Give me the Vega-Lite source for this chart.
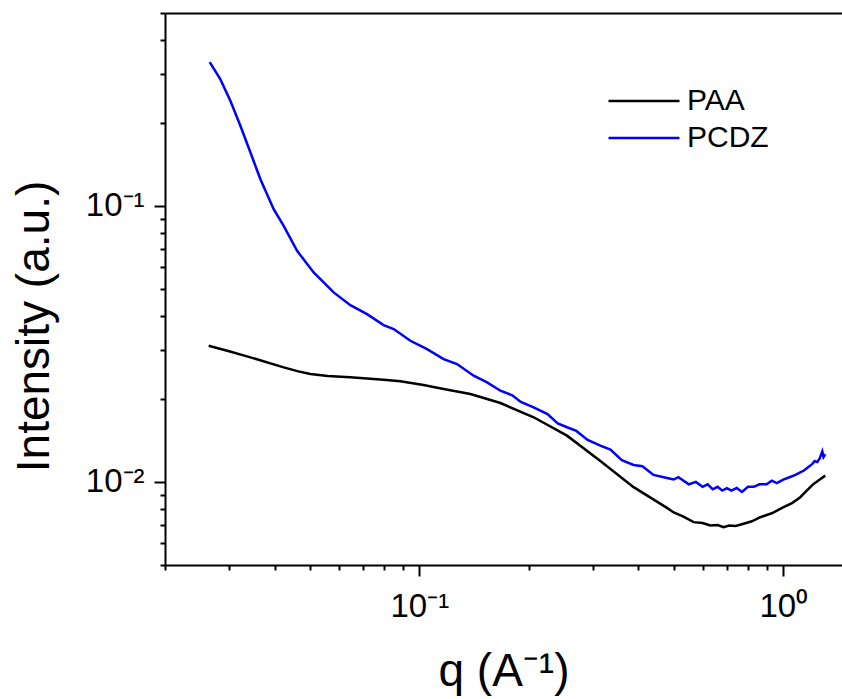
{
  "$schema": "https://vega.github.io/schema/vega-lite/v6.json",
  "width": 677,
  "height": 552,
  "autosize": {"type": "none"},
  "padding": {"left": 165, "top": 13, "right": 0, "bottom": 134},
  "background": "white",
  "config": {"font": "Liberation Sans", "view": {"stroke": null}},
  "data": {"values": [
    {"sample": "PAA", "q": 0.02637, "I": 0.03114},
    {"sample": "PAA", "q": 0.03, "I": 0.02975},
    {"sample": "PAA", "q": 0.03434, "I": 0.02827},
    {"sample": "PAA", "q": 0.04238, "I": 0.02601},
    {"sample": "PAA", "q": 0.0465, "I": 0.02515},
    {"sample": "PAA", "q": 0.05018, "I": 0.0246},
    {"sample": "PAA", "q": 0.056, "I": 0.0242},
    {"sample": "PAA", "q": 0.06462, "I": 0.02393},
    {"sample": "PAA", "q": 0.07976, "I": 0.02346},
    {"sample": "PAA", "q": 0.08867, "I": 0.02315},
    {"sample": "PAA", "q": 0.1027, "I": 0.02245},
    {"sample": "PAA", "q": 0.1166, "I": 0.02171},
    {"sample": "PAA", "q": 0.1381, "I": 0.02082},
    {"sample": "PAA", "q": 0.167, "I": 0.01931},
    {"sample": "PAA", "q": 0.2061, "I": 0.01715},
    {"sample": "PAA", "q": 0.2545, "I": 0.01471},
    {"sample": "PAA", "q": 0.3143, "I": 0.01191},
    {"sample": "PAA", "q": 0.3879, "I": 0.00957},
    {"sample": "PAA", "q": 0.4791, "I": 0.00805},
    {"sample": "PAA", "q": 0.5, "I": 0.00775},
    {"sample": "PAA", "q": 0.53, "I": 0.0075},
    {"sample": "PAA", "q": 0.567, "I": 0.00715},
    {"sample": "PAA", "q": 0.6, "I": 0.0071},
    {"sample": "PAA", "q": 0.6302, "I": 0.00695},
    {"sample": "PAA", "q": 0.66, "I": 0.00698},
    {"sample": "PAA", "q": 0.6855, "I": 0.00685},
    {"sample": "PAA", "q": 0.71, "I": 0.00695},
    {"sample": "PAA", "q": 0.74, "I": 0.00692},
    {"sample": "PAA", "q": 0.7778, "I": 0.00705},
    {"sample": "PAA", "q": 0.82, "I": 0.0072},
    {"sample": "PAA", "q": 0.8646, "I": 0.00745},
    {"sample": "PAA", "q": 0.93, "I": 0.0077},
    {"sample": "PAA", "q": 1.002, "I": 0.0081},
    {"sample": "PAA", "q": 1.06, "I": 0.0084},
    {"sample": "PAA", "q": 1.1135, "I": 0.0088},
    {"sample": "PAA", "q": 1.16, "I": 0.0093},
    {"sample": "PAA", "q": 1.2112, "I": 0.00984},
    {"sample": "PAA", "q": 1.26, "I": 0.0102},
    {"sample": "PAA", "q": 1.3045, "I": 0.01054},
    {"sample": "PCDZ", "q": 0.02654, "I": 0.332},
    {"sample": "PCDZ", "q": 0.0284, "I": 0.2874},
    {"sample": "PCDZ", "q": 0.03026, "I": 0.2399},
    {"sample": "PCDZ", "q": 0.03224, "I": 0.1948},
    {"sample": "PCDZ", "q": 0.03434, "I": 0.1561},
    {"sample": "PCDZ", "q": 0.03658, "I": 0.1249},
    {"sample": "PCDZ", "q": 0.03978, "I": 0.09729},
    {"sample": "PCDZ", "q": 0.04238, "I": 0.08465},
    {"sample": "PCDZ", "q": 0.04613, "I": 0.06874},
    {"sample": "PCDZ", "q": 0.05124, "I": 0.05741},
    {"sample": "PCDZ", "q": 0.05815, "I": 0.0486},
    {"sample": "PCDZ", "q": 0.06462, "I": 0.0437},
    {"sample": "PCDZ", "q": 0.07182, "I": 0.04055},
    {"sample": "PCDZ", "q": 0.07976, "I": 0.037},
    {"sample": "PCDZ", "q": 0.085, "I": 0.03579},
    {"sample": "PCDZ", "q": 0.09447, "I": 0.03246},
    {"sample": "PCDZ", "q": 0.09856, "I": 0.03158},
    {"sample": "PCDZ", "q": 0.105, "I": 0.03029},
    {"sample": "PCDZ", "q": 0.1166, "I": 0.02787},
    {"sample": "PCDZ", "q": 0.1269, "I": 0.02673},
    {"sample": "PCDZ", "q": 0.141, "I": 0.02425},
    {"sample": "PCDZ", "q": 0.1535, "I": 0.02295},
    {"sample": "PCDZ", "q": 0.167, "I": 0.0214},
    {"sample": "PCDZ", "q": 0.18, "I": 0.0206},
    {"sample": "PCDZ", "q": 0.19, "I": 0.0195},
    {"sample": "PCDZ", "q": 0.2061, "I": 0.01864},
    {"sample": "PCDZ", "q": 0.225, "I": 0.0176},
    {"sample": "PCDZ", "q": 0.24, "I": 0.0163},
    {"sample": "PCDZ", "q": 0.2545, "I": 0.01578},
    {"sample": "PCDZ", "q": 0.27, "I": 0.0153},
    {"sample": "PCDZ", "q": 0.29, "I": 0.0142},
    {"sample": "PCDZ", "q": 0.3143, "I": 0.01353},
    {"sample": "PCDZ", "q": 0.335, "I": 0.0131},
    {"sample": "PCDZ", "q": 0.36, "I": 0.012},
    {"sample": "PCDZ", "q": 0.3879, "I": 0.01152},
    {"sample": "PCDZ", "q": 0.41, "I": 0.0114},
    {"sample": "PCDZ", "q": 0.44, "I": 0.0106},
    {"sample": "PCDZ", "q": 0.4791, "I": 0.01034},
    {"sample": "PCDZ", "q": 0.5, "I": 0.0102},
    {"sample": "PCDZ", "q": 0.515, "I": 0.0104},
    {"sample": "PCDZ", "q": 0.55, "I": 0.0098},
    {"sample": "PCDZ", "q": 0.575, "I": 0.01},
    {"sample": "PCDZ", "q": 0.6, "I": 0.0096},
    {"sample": "PCDZ", "q": 0.62, "I": 0.0098},
    {"sample": "PCDZ", "q": 0.64, "I": 0.0094},
    {"sample": "PCDZ", "q": 0.66, "I": 0.0096},
    {"sample": "PCDZ", "q": 0.68, "I": 0.0093},
    {"sample": "PCDZ", "q": 0.7, "I": 0.0095},
    {"sample": "PCDZ", "q": 0.72, "I": 0.0093},
    {"sample": "PCDZ", "q": 0.745, "I": 0.0095},
    {"sample": "PCDZ", "q": 0.77, "I": 0.0092},
    {"sample": "PCDZ", "q": 0.8, "I": 0.0096},
    {"sample": "PCDZ", "q": 0.83, "I": 0.0096},
    {"sample": "PCDZ", "q": 0.86, "I": 0.0098},
    {"sample": "PCDZ", "q": 0.9, "I": 0.0098},
    {"sample": "PCDZ", "q": 0.93, "I": 0.0101},
    {"sample": "PCDZ", "q": 0.96, "I": 0.0099},
    {"sample": "PCDZ", "q": 1.0, "I": 0.0102},
    {"sample": "PCDZ", "q": 1.04, "I": 0.0104},
    {"sample": "PCDZ", "q": 1.08, "I": 0.0106},
    {"sample": "PCDZ", "q": 1.11, "I": 0.0108},
    {"sample": "PCDZ", "q": 1.14, "I": 0.011},
    {"sample": "PCDZ", "q": 1.17, "I": 0.0113},
    {"sample": "PCDZ", "q": 1.2, "I": 0.0116},
    {"sample": "PCDZ", "q": 1.22, "I": 0.0119},
    {"sample": "PCDZ", "q": 1.24, "I": 0.0118},
    {"sample": "PCDZ", "q": 1.26, "I": 0.0122},
    {"sample": "PCDZ", "q": 1.28, "I": 0.0129},
    {"sample": "PCDZ", "q": 1.29, "I": 0.0123},
    {"sample": "PCDZ", "q": 1.305, "I": 0.0126}
  ]},
  "layer": [
    {
      "mark": {"type": "line", "strokeWidth": 2.5},
      "encoding": {
        "x": {
          "field": "q", "type": "quantitative",
          "scale": {"type": "log", "domain": [0.02, 1.45], "nice": false},
          "axis": {
            "orient": "bottom",
            "values": [0.02, 0.03, 0.04, 0.05, 0.06, 0.07, 0.08, 0.09, 0.1, 0.2, 0.3, 0.4, 0.5, 0.6, 0.7, 0.8, 0.9, 1],
            "labelExpr": "datum.value == 0.1 ? '10⁻¹' : datum.value == 1 ? '10⁰' : ''",
            "tickSize": {"condition": {"test": "datum.value == 0.1 || datum.value == 1", "value": 11}, "value": 5},
            "tickWidth": 2, "tickColor": "black",
            "domainColor": "black", "domainWidth": 2,
            "labelFontSize": 33, "labelColor": "black", "labelPadding": 14,
            "labelOverlap": false, "labelFlush": false, "grid": false,
            "title": "q (A⁻¹)", "titleFontSize": 46, "titleFontWeight": "normal", "titleColor": "black",
            "titleY": 120, "titleBaseline": "alphabetic"
          }
        },
        "y": {
          "field": "I", "type": "quantitative",
          "scale": {"type": "log", "domain": [0.005, 0.5], "nice": false},
          "axis": {
            "values": [0.005, 0.006, 0.007, 0.008, 0.009, 0.01, 0.02, 0.03, 0.04, 0.05, 0.06, 0.07, 0.08, 0.09, 0.1, 0.2, 0.3, 0.4, 0.5],
            "labelExpr": "datum.value == 0.1 ? '10⁻¹' : datum.value == 0.01 ? '10⁻²' : ''",
            "tickSize": {"condition": {"test": "datum.value == 0.1 || datum.value == 0.01", "value": 11}, "value": 5},
            "tickWidth": 2, "tickColor": "black",
            "domainColor": "black", "domainWidth": 2,
            "labelFontSize": 33, "labelColor": "black", "labelPadding": 10,
            "labelOverlap": false, "labelFlush": false, "grid": false,
            "title": "Intensity (a.u.)", "titleFontSize": 46, "titleFontWeight": "normal", "titleColor": "black",
            "titleX": -131, "titleY": 313, "titleAngle": 270, "titleAlign": "center", "titleBaseline": "middle"
          }
        },
        "color": {
          "field": "sample", "type": "nominal",
          "scale": {"domain": ["PAA", "PCDZ"], "range": ["#000000", "#0000ff"]},
          "legend": {
            "orient": "none", "legendX": 442, "legendY": 73,
            "title": null, "symbolType": "stroke", "symbolSize": 5041, "symbolStrokeWidth": 2.5,
            "clipHeight": 30,
            "labelFontSize": 30, "labelColor": "black", "labelOffset": 6, "rowPadding": 7
          }
        }
      }
    },
    {
      "mark": {"type": "rule", "opacity": 0},
      "encoding": {
        "x": {
          "field": "q", "type": "quantitative",
          "axis": {"orient": "top", "ticks": false, "labels": false, "domainColor": "black", "domainWidth": 2, "title": null, "grid": false}
        }
      }
    }
  ],
  "resolve": {"axis": {"x": "independent"}}
}
